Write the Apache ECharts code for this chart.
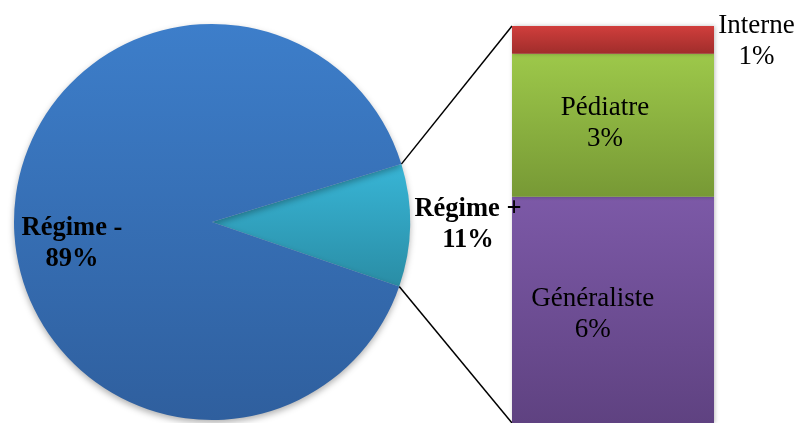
<!DOCTYPE html>
<html>
<head>
<meta charset="utf-8">
<script src="https://cdn.jsdelivr.net/npm/echarts@6/dist/echarts.min.js"></script>
<style>
  html, body { margin: 0; padding: 0; background: #fff; }
  #chart { width: 798px; height: 423px; }
</style>
</head>
<body>
<div id="chart"></div>
<script>
// pie : régime - / régime +
var pieNames = ['Régime +', 'Régime -'];
var pieValues = [10, 90];
var pieLabels = ['11%', '89%'];
// barre : détail du régime +
var barNames = ['Généraliste', 'Pédiatre', 'Interne'];
var barValues = [5.7, 3.6, 0.7];
var barLabels = ['6%', '3%', '1%'];

var FONT = '"Liberation Serif", "Times New Roman", serif';
var PIE_CENTER = [212, 222], PIE_R = 198, START = 17;
var BAR_GRID = { left: 512, top: 26, width: 202, height: 399 };

function grad(top, bottom) {
    return new echarts.graphic.LinearGradient(0, 0, 0, 1, [
        { offset: 0, color: top }, { offset: 1, color: bottom }
    ]);
}

var pieColors = [grad('#38b5d6', '#2a8da5'), grad('#3d7eca', '#2f5f9e')];
var barColors = [grad('#7c59a7', '#5f4281'), grad('#9dc84a', '#779935'), grad('#d03e3c', '#a02d2b')];
// positions des étiquettes
var pieLabelPos = [{ x: 468, y: 225 }, { x: 72, y: 244 }];
var barLabelPos = [['40%', '52%'], ['46%', '49%'], ['121%', '57%']];

var chart = echarts.init(document.getElementById('chart'));

var barSeries = barNames.map(function (name, i) {
    return {
        type: 'bar', name: name, stack: 'detail', barWidth: '100%', z: 2,
        data: [barValues[i]],
        itemStyle: { color: barColors[i], shadowBlur: 4, shadowColor: 'rgba(0,0,0,0.25)', shadowOffsetX: 1 },
        label: {
            show: true, position: barLabelPos[i], align: 'center', verticalAlign: 'middle',
            fontFamily: FONT, fontSize: 27, lineHeight: 31, color: '#000',
            formatter: name + '\n' + barLabels[i]
        }
    };
});

chart.setOption({
    animation: false,
    grid: BAR_GRID,
    xAxis: { type: 'category', data: ['Régime +'], show: false },
    yAxis: { type: 'value', min: 0, max: pieValues[0], show: false },
    series: [{
        type: 'pie', center: PIE_CENTER, radius: PIE_R, startAngle: START, z: 3,
        silent: true, avoidLabelOverlap: false,
        data: pieNames.map(function (n, i) {
            return { name: n, value: pieValues[i], itemStyle: { color: pieColors[i] } };
        }),
        itemStyle: { shadowBlur: 6, shadowColor: 'rgba(0,0,0,0.3)', shadowOffsetY: 3 },
        label: {
            show: true, position: 'inside', color: '#000', fontFamily: FONT,
            fontSize: 26.5, fontWeight: 'bold', lineHeight: 31,
            formatter: function (p) { return p.name + '\n' + pieLabels[p.dataIndex]; }
        },
        labelLine: { show: false },
        labelLayout: function (p) {
            var pos = pieLabelPos[p.dataIndex];
            return { x: pos.x, y: pos.y, align: 'center', verticalAlign: 'middle' };
        }
    }].concat(barSeries)
});

// lignes de liaison : bords de la part "Régime +" vers les coins de la barre
var a1 = START * Math.PI / 180;
var a2 = (START - 360 * pieValues[0] / (pieValues[0] + pieValues[1])) * Math.PI / 180;
function piePoint(a) {
    return [PIE_CENTER[0] + PIE_R * Math.cos(a), PIE_CENTER[1] - PIE_R * Math.sin(a)];
}
var p1 = piePoint(a1), p2 = piePoint(a2);
var barTop = chart.convertToPixel({ yAxisIndex: 0 }, pieValues[0]);
var barBottom = chart.convertToPixel({ yAxisIndex: 0 }, 0);
chart.setOption({
    graphic: [
        { type: 'line', z: 1, shape: { x1: p1[0], y1: p1[1], x2: BAR_GRID.left, y2: barTop }, style: { stroke: '#000', lineWidth: 1.5 } },
        { type: 'line', z: 1, shape: { x1: p2[0], y1: p2[1], x2: BAR_GRID.left, y2: barBottom }, style: { stroke: '#000', lineWidth: 1.5 } }
    ]
});
</script>
</body>
</html>
